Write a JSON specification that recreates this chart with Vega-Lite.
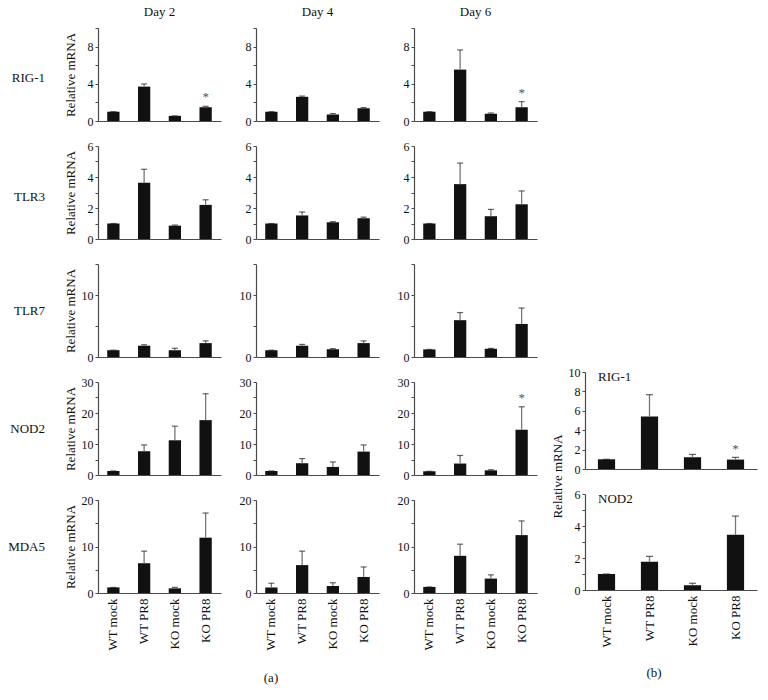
{
"$schema": "https://vega.github.io/schema/vega-lite/v6.json",
"padding": 5,
"background": "white",
"datasets": {"d": [
{"gene":"RIG-1","day":"Day 2","grp":"WT mock","mean":1.0,"upper":1.0,"sig":""},
{"gene":"RIG-1","day":"Day 2","grp":"WT PR8","mean":3.7,"upper":3.98,"sig":""},
{"gene":"RIG-1","day":"Day 2","grp":"KO mock","mean":0.55,"upper":0.55,"sig":""},
{"gene":"RIG-1","day":"Day 2","grp":"KO PR8","mean":1.48,"upper":1.58,"sig":"*"},
{"gene":"RIG-1","day":"Day 4","grp":"WT mock","mean":1.0,"upper":1.0,"sig":""},
{"gene":"RIG-1","day":"Day 4","grp":"WT PR8","mean":2.6,"upper":2.68,"sig":""},
{"gene":"RIG-1","day":"Day 4","grp":"KO mock","mean":0.7,"upper":0.8,"sig":""},
{"gene":"RIG-1","day":"Day 4","grp":"KO PR8","mean":1.37,"upper":1.44,"sig":""},
{"gene":"RIG-1","day":"Day 6","grp":"WT mock","mean":1.0,"upper":1.0,"sig":""},
{"gene":"RIG-1","day":"Day 6","grp":"WT PR8","mean":5.53,"upper":7.64,"sig":""},
{"gene":"RIG-1","day":"Day 6","grp":"KO mock","mean":0.78,"upper":0.86,"sig":""},
{"gene":"RIG-1","day":"Day 6","grp":"KO PR8","mean":1.48,"upper":2.08,"sig":"*"},
{"gene":"TLR3","day":"Day 2","grp":"WT mock","mean":1.0,"upper":1.0,"sig":""},
{"gene":"TLR3","day":"Day 2","grp":"WT PR8","mean":3.63,"upper":4.5,"sig":""},
{"gene":"TLR3","day":"Day 2","grp":"KO mock","mean":0.86,"upper":0.9,"sig":""},
{"gene":"TLR3","day":"Day 2","grp":"KO PR8","mean":2.2,"upper":2.53,"sig":""},
{"gene":"TLR3","day":"Day 4","grp":"WT mock","mean":1.0,"upper":1.0,"sig":""},
{"gene":"TLR3","day":"Day 4","grp":"WT PR8","mean":1.52,"upper":1.74,"sig":""},
{"gene":"TLR3","day":"Day 4","grp":"KO mock","mean":1.08,"upper":1.12,"sig":""},
{"gene":"TLR3","day":"Day 4","grp":"KO PR8","mean":1.34,"upper":1.41,"sig":""},
{"gene":"TLR3","day":"Day 6","grp":"WT mock","mean":1.0,"upper":1.0,"sig":""},
{"gene":"TLR3","day":"Day 6","grp":"WT PR8","mean":3.54,"upper":4.9,"sig":""},
{"gene":"TLR3","day":"Day 6","grp":"KO mock","mean":1.47,"upper":1.91,"sig":""},
{"gene":"TLR3","day":"Day 6","grp":"KO PR8","mean":2.24,"upper":3.1,"sig":""},
{"gene":"TLR7","day":"Day 2","grp":"WT mock","mean":1.1,"upper":1.1,"sig":""},
{"gene":"TLR7","day":"Day 2","grp":"WT PR8","mean":1.82,"upper":1.98,"sig":""},
{"gene":"TLR7","day":"Day 2","grp":"KO mock","mean":1.09,"upper":1.4,"sig":""},
{"gene":"TLR7","day":"Day 2","grp":"KO PR8","mean":2.24,"upper":2.6,"sig":""},
{"gene":"TLR7","day":"Day 4","grp":"WT mock","mean":1.1,"upper":1.1,"sig":""},
{"gene":"TLR7","day":"Day 4","grp":"WT PR8","mean":1.82,"upper":2.03,"sig":""},
{"gene":"TLR7","day":"Day 4","grp":"KO mock","mean":1.25,"upper":1.35,"sig":""},
{"gene":"TLR7","day":"Day 4","grp":"KO PR8","mean":2.24,"upper":2.6,"sig":""},
{"gene":"TLR7","day":"Day 6","grp":"WT mock","mean":1.22,"upper":1.22,"sig":""},
{"gene":"TLR7","day":"Day 6","grp":"WT PR8","mean":5.94,"upper":7.17,"sig":""},
{"gene":"TLR7","day":"Day 6","grp":"KO mock","mean":1.33,"upper":1.39,"sig":""},
{"gene":"TLR7","day":"Day 6","grp":"KO PR8","mean":5.33,"upper":7.9,"sig":""},
{"gene":"NOD2","day":"Day 2","grp":"WT mock","mean":1.3,"upper":1.3,"sig":""},
{"gene":"NOD2","day":"Day 2","grp":"WT PR8","mean":7.66,"upper":9.7,"sig":""},
{"gene":"NOD2","day":"Day 2","grp":"KO mock","mean":11.2,"upper":15.75,"sig":""},
{"gene":"NOD2","day":"Day 2","grp":"KO PR8","mean":17.7,"upper":26.2,"sig":""},
{"gene":"NOD2","day":"Day 4","grp":"WT mock","mean":1.3,"upper":1.3,"sig":""},
{"gene":"NOD2","day":"Day 4","grp":"WT PR8","mean":3.8,"upper":5.3,"sig":""},
{"gene":"NOD2","day":"Day 4","grp":"KO mock","mean":2.6,"upper":4.2,"sig":""},
{"gene":"NOD2","day":"Day 4","grp":"KO PR8","mean":7.55,"upper":9.7,"sig":""},
{"gene":"NOD2","day":"Day 6","grp":"WT mock","mean":1.2,"upper":1.2,"sig":""},
{"gene":"NOD2","day":"Day 6","grp":"WT PR8","mean":3.7,"upper":6.3,"sig":""},
{"gene":"NOD2","day":"Day 6","grp":"KO mock","mean":1.5,"upper":1.7,"sig":""},
{"gene":"NOD2","day":"Day 6","grp":"KO PR8","mean":14.6,"upper":22.0,"sig":"*"},
{"gene":"MDA5","day":"Day 2","grp":"WT mock","mean":1.2,"upper":1.2,"sig":""},
{"gene":"MDA5","day":"Day 2","grp":"WT PR8","mean":6.4,"upper":9.0,"sig":""},
{"gene":"MDA5","day":"Day 2","grp":"KO mock","mean":1.0,"upper":1.2,"sig":""},
{"gene":"MDA5","day":"Day 2","grp":"KO PR8","mean":11.9,"upper":17.2,"sig":""},
{"gene":"MDA5","day":"Day 4","grp":"WT mock","mean":1.2,"upper":2.1,"sig":""},
{"gene":"MDA5","day":"Day 4","grp":"WT PR8","mean":6.0,"upper":9.0,"sig":""},
{"gene":"MDA5","day":"Day 4","grp":"KO mock","mean":1.5,"upper":2.2,"sig":""},
{"gene":"MDA5","day":"Day 4","grp":"KO PR8","mean":3.45,"upper":5.6,"sig":""},
{"gene":"MDA5","day":"Day 6","grp":"WT mock","mean":1.3,"upper":1.3,"sig":""},
{"gene":"MDA5","day":"Day 6","grp":"WT PR8","mean":8.0,"upper":10.5,"sig":""},
{"gene":"MDA5","day":"Day 6","grp":"KO mock","mean":3.1,"upper":3.9,"sig":""},
{"gene":"MDA5","day":"Day 6","grp":"KO PR8","mean":12.45,"upper":15.5,"sig":""},
{"gene":"RIG-1","day":"b","grp":"WT mock","mean":1.0,"upper":1.0,"sig":""},
{"gene":"RIG-1","day":"b","grp":"WT PR8","mean":5.41,"upper":7.66,"sig":""},
{"gene":"RIG-1","day":"b","grp":"KO mock","mean":1.2,"upper":1.5,"sig":""},
{"gene":"RIG-1","day":"b","grp":"KO PR8","mean":0.97,"upper":1.2,"sig":"*"},
{"gene":"NOD2","day":"b","grp":"WT mock","mean":1.0,"upper":1.0,"sig":""},
{"gene":"NOD2","day":"b","grp":"WT PR8","mean":1.77,"upper":2.1,"sig":""},
{"gene":"NOD2","day":"b","grp":"KO mock","mean":0.29,"upper":0.42,"sig":""},
{"gene":"NOD2","day":"b","grp":"KO PR8","mean":3.46,"upper":4.62,"sig":""}
]},
"hconcat": [
{
"concat": [
{"width":58,"height":93,"data":{"values":[{"t":"RIG-1"}]},"mark":{"type":"text","align":"right","dx":11,"dy":3},"encoding":{"text":{"field":"t"}}},
{"width":123,"height":93,"data":{"name":"d"},"transform":[{"filter":"datum.gene=='RIG-1' && datum.day=='Day 2'"}],
 "title":{"text":"Day 2","frame":"group","anchor":"middle","offset":9},
 "encoding":{"x":{"field":"grp","type":"nominal","sort":["WT mock","WT PR8","KO mock","KO PR8"],"axis":{"labels":false,"title":null}},
  "y":{"field":"mean","type":"quantitative","scale":{"domain":[0,10],"nice":false},"axis":{"title":"Relative mRNA","titleX":-21,"values":[0,2,4,6,8,10],"labelExpr":"datum.value % 4 == 0 && datum.value < 10 ? datum.label : ''"}}},
 "layer":[{"mark":"bar"},{"mark":"rule","encoding":{"y2":{"field":"upper"}}},{"mark":{"type":"tick","orient":"horizontal","size":6},"encoding":{"y":{"field":"upper","type":"quantitative"}}},{"mark":{"type":"text","dy":-9,"color":"#555"},"encoding":{"y":{"field":"upper","type":"quantitative"},"text":{"field":"sig"}}}]},
{"width":123,"height":93,"data":{"name":"d"},"transform":[{"filter":"datum.gene=='RIG-1' && datum.day=='Day 4'"}],
 "title":{"text":"Day 4","frame":"group","anchor":"middle","offset":9},
 "encoding":{"x":{"field":"grp","type":"nominal","sort":["WT mock","WT PR8","KO mock","KO PR8"],"axis":{"labels":false,"title":null}},
  "y":{"field":"mean","type":"quantitative","scale":{"domain":[0,10],"nice":false},"axis":{"title":null,"values":[0,2,4,6,8,10],"labelExpr":"datum.value % 4 == 0 && datum.value < 10 ? datum.label : ''"}}},
 "layer":[{"mark":"bar"},{"mark":"rule","encoding":{"y2":{"field":"upper"}}},{"mark":{"type":"tick","orient":"horizontal","size":6},"encoding":{"y":{"field":"upper","type":"quantitative"}}},{"mark":{"type":"text","dy":-9,"color":"#555"},"encoding":{"y":{"field":"upper","type":"quantitative"},"text":{"field":"sig"}}}]},
{"width":123,"height":93,"data":{"name":"d"},"transform":[{"filter":"datum.gene=='RIG-1' && datum.day=='Day 6'"}],
 "title":{"text":"Day 6","frame":"group","anchor":"middle","offset":9},
 "encoding":{"x":{"field":"grp","type":"nominal","sort":["WT mock","WT PR8","KO mock","KO PR8"],"axis":{"labels":false,"title":null}},
  "y":{"field":"mean","type":"quantitative","scale":{"domain":[0,10],"nice":false},"axis":{"title":null,"values":[0,2,4,6,8,10],"labelExpr":"datum.value % 4 == 0 && datum.value < 10 ? datum.label : ''"}}},
 "layer":[{"mark":"bar"},{"mark":"rule","encoding":{"y2":{"field":"upper"}}},{"mark":{"type":"tick","orient":"horizontal","size":6},"encoding":{"y":{"field":"upper","type":"quantitative"}}},{"mark":{"type":"text","dy":-9,"color":"#555"},"encoding":{"y":{"field":"upper","type":"quantitative"},"text":{"field":"sig"}}}]},

{"width":58,"height":93,"data":{"values":[{"t":"TLR3"}]},"mark":{"type":"text","align":"right","dx":11,"dy":4},"encoding":{"text":{"field":"t"}}},
{"width":123,"height":93,"data":{"name":"d"},"transform":[{"filter":"datum.gene=='TLR3' && datum.day=='Day 2'"}],
 "encoding":{"x":{"field":"grp","type":"nominal","sort":["WT mock","WT PR8","KO mock","KO PR8"],"axis":{"labels":false,"title":null}},
  "y":{"field":"mean","type":"quantitative","scale":{"domain":[0,6],"nice":false},"axis":{"title":"Relative mRNA","titleX":-21,"values":[0,1,2,3,4,5,6],"labelExpr":"datum.value % 2 == 0 ? datum.label : ''"}}},
 "layer":[{"mark":"bar"},{"mark":"rule","encoding":{"y2":{"field":"upper"}}},{"mark":{"type":"tick","orient":"horizontal","size":6},"encoding":{"y":{"field":"upper","type":"quantitative"}}},{"mark":{"type":"text","dy":-9,"color":"#555"},"encoding":{"y":{"field":"upper","type":"quantitative"},"text":{"field":"sig"}}}]},
{"width":123,"height":93,"data":{"name":"d"},"transform":[{"filter":"datum.gene=='TLR3' && datum.day=='Day 4'"}],
 "encoding":{"x":{"field":"grp","type":"nominal","sort":["WT mock","WT PR8","KO mock","KO PR8"],"axis":{"labels":false,"title":null}},
  "y":{"field":"mean","type":"quantitative","scale":{"domain":[0,6],"nice":false},"axis":{"title":null,"values":[0,1,2,3,4,5,6],"labelExpr":"datum.value % 2 == 0 ? datum.label : ''"}}},
 "layer":[{"mark":"bar"},{"mark":"rule","encoding":{"y2":{"field":"upper"}}},{"mark":{"type":"tick","orient":"horizontal","size":6},"encoding":{"y":{"field":"upper","type":"quantitative"}}},{"mark":{"type":"text","dy":-9,"color":"#555"},"encoding":{"y":{"field":"upper","type":"quantitative"},"text":{"field":"sig"}}}]},
{"width":123,"height":93,"data":{"name":"d"},"transform":[{"filter":"datum.gene=='TLR3' && datum.day=='Day 6'"}],
 "encoding":{"x":{"field":"grp","type":"nominal","sort":["WT mock","WT PR8","KO mock","KO PR8"],"axis":{"labels":false,"title":null}},
  "y":{"field":"mean","type":"quantitative","scale":{"domain":[0,6],"nice":false},"axis":{"title":null,"values":[0,1,2,3,4,5,6],"labelExpr":"datum.value % 2 == 0 ? datum.label : ''"}}},
 "layer":[{"mark":"bar"},{"mark":"rule","encoding":{"y2":{"field":"upper"}}},{"mark":{"type":"tick","orient":"horizontal","size":6},"encoding":{"y":{"field":"upper","type":"quantitative"}}},{"mark":{"type":"text","dy":-9,"color":"#555"},"encoding":{"y":{"field":"upper","type":"quantitative"},"text":{"field":"sig"}}}]},

{"width":58,"height":93,"data":{"values":[{"t":"TLR7"}]},"mark":{"type":"text","align":"right","dx":11},"encoding":{"text":{"field":"t"}}},
{"width":123,"height":93,"data":{"name":"d"},"transform":[{"filter":"datum.gene=='TLR7' && datum.day=='Day 2'"}],
 "encoding":{"x":{"field":"grp","type":"nominal","sort":["WT mock","WT PR8","KO mock","KO PR8"],"axis":{"labels":false,"title":null}},
  "y":{"field":"mean","type":"quantitative","scale":{"domain":[0,15],"nice":false},"axis":{"title":"Relative mRNA","titleX":-21,"values":[0,5,10,15],"labelExpr":"datum.value % 10 == 0 ? datum.label : ''"}}},
 "layer":[{"mark":"bar"},{"mark":"rule","encoding":{"y2":{"field":"upper"}}},{"mark":{"type":"tick","orient":"horizontal","size":6},"encoding":{"y":{"field":"upper","type":"quantitative"}}},{"mark":{"type":"text","dy":-9,"color":"#555"},"encoding":{"y":{"field":"upper","type":"quantitative"},"text":{"field":"sig"}}}]},
{"width":123,"height":93,"data":{"name":"d"},"transform":[{"filter":"datum.gene=='TLR7' && datum.day=='Day 4'"}],
 "encoding":{"x":{"field":"grp","type":"nominal","sort":["WT mock","WT PR8","KO mock","KO PR8"],"axis":{"labels":false,"title":null}},
  "y":{"field":"mean","type":"quantitative","scale":{"domain":[0,15],"nice":false},"axis":{"title":null,"values":[0,5,10,15],"labelExpr":"datum.value % 10 == 0 ? datum.label : ''"}}},
 "layer":[{"mark":"bar"},{"mark":"rule","encoding":{"y2":{"field":"upper"}}},{"mark":{"type":"tick","orient":"horizontal","size":6},"encoding":{"y":{"field":"upper","type":"quantitative"}}},{"mark":{"type":"text","dy":-9,"color":"#555"},"encoding":{"y":{"field":"upper","type":"quantitative"},"text":{"field":"sig"}}}]},
{"width":123,"height":93,"data":{"name":"d"},"transform":[{"filter":"datum.gene=='TLR7' && datum.day=='Day 6'"}],
 "encoding":{"x":{"field":"grp","type":"nominal","sort":["WT mock","WT PR8","KO mock","KO PR8"],"axis":{"labels":false,"title":null}},
  "y":{"field":"mean","type":"quantitative","scale":{"domain":[0,15],"nice":false},"axis":{"title":null,"values":[0,5,10,15],"labelExpr":"datum.value % 10 == 0 ? datum.label : ''"}}},
 "layer":[{"mark":"bar"},{"mark":"rule","encoding":{"y2":{"field":"upper"}}},{"mark":{"type":"tick","orient":"horizontal","size":6},"encoding":{"y":{"field":"upper","type":"quantitative"}}},{"mark":{"type":"text","dy":-9,"color":"#555"},"encoding":{"y":{"field":"upper","type":"quantitative"},"text":{"field":"sig"}}}]},

{"width":58,"height":93,"data":{"values":[{"t":"NOD2"}]},"mark":{"type":"text","align":"right","dx":11},"encoding":{"text":{"field":"t"}}},
{"width":123,"height":93,"data":{"name":"d"},"transform":[{"filter":"datum.gene=='NOD2' && datum.day=='Day 2'"}],
 "encoding":{"x":{"field":"grp","type":"nominal","sort":["WT mock","WT PR8","KO mock","KO PR8"],"axis":{"labels":false,"title":null}},
  "y":{"field":"mean","type":"quantitative","scale":{"domain":[0,30],"nice":false},"axis":{"title":"Relative mRNA","titleX":-21,"values":[0,5,10,15,20,25,30],"labelExpr":"datum.value % 10 == 0 ? datum.label : ''"}}},
 "layer":[{"mark":"bar"},{"mark":"rule","encoding":{"y2":{"field":"upper"}}},{"mark":{"type":"tick","orient":"horizontal","size":6},"encoding":{"y":{"field":"upper","type":"quantitative"}}},{"mark":{"type":"text","dy":-9,"color":"#555"},"encoding":{"y":{"field":"upper","type":"quantitative"},"text":{"field":"sig"}}}]},
{"width":123,"height":93,"data":{"name":"d"},"transform":[{"filter":"datum.gene=='NOD2' && datum.day=='Day 4'"}],
 "encoding":{"x":{"field":"grp","type":"nominal","sort":["WT mock","WT PR8","KO mock","KO PR8"],"axis":{"labels":false,"title":null}},
  "y":{"field":"mean","type":"quantitative","scale":{"domain":[0,30],"nice":false},"axis":{"title":null,"values":[0,5,10,15,20,25,30],"labelExpr":"datum.value % 10 == 0 ? datum.label : ''"}}},
 "layer":[{"mark":"bar"},{"mark":"rule","encoding":{"y2":{"field":"upper"}}},{"mark":{"type":"tick","orient":"horizontal","size":6},"encoding":{"y":{"field":"upper","type":"quantitative"}}},{"mark":{"type":"text","dy":-9,"color":"#555"},"encoding":{"y":{"field":"upper","type":"quantitative"},"text":{"field":"sig"}}}]},
{"width":123,"height":93,"data":{"name":"d"},"transform":[{"filter":"datum.gene=='NOD2' && datum.day=='Day 6'"}],
 "encoding":{"x":{"field":"grp","type":"nominal","sort":["WT mock","WT PR8","KO mock","KO PR8"],"axis":{"labels":false,"title":null}},
  "y":{"field":"mean","type":"quantitative","scale":{"domain":[0,30],"nice":false},"axis":{"title":null,"values":[0,5,10,15,20,25,30],"labelExpr":"datum.value % 10 == 0 ? datum.label : ''"}}},
 "layer":[{"mark":"bar"},{"mark":"rule","encoding":{"y2":{"field":"upper"}}},{"mark":{"type":"tick","orient":"horizontal","size":6},"encoding":{"y":{"field":"upper","type":"quantitative"}}},{"mark":{"type":"text","dy":-9,"color":"#555"},"encoding":{"y":{"field":"upper","type":"quantitative"},"text":{"field":"sig"}}}]},

{"width":58,"height":93,"data":{"values":[{"t":"MDA5"}]},"mark":{"type":"text","align":"right","dx":11},"encoding":{"text":{"field":"t"}}},
{"width":123,"height":93,"data":{"name":"d"},"transform":[{"filter":"datum.gene=='MDA5' && datum.day=='Day 2'"}],
 "encoding":{"x":{"field":"grp","type":"nominal","sort":["WT mock","WT PR8","KO mock","KO PR8"],"axis":{"title":null}},
  "y":{"field":"mean","type":"quantitative","scale":{"domain":[0,20],"nice":false},"axis":{"title":"Relative mRNA","titleX":-21,"values":[0,5,10,15,20],"labelExpr":"datum.value % 10 == 0 ? datum.label : ''"}}},
 "layer":[{"mark":"bar"},{"mark":"rule","encoding":{"y2":{"field":"upper"}}},{"mark":{"type":"tick","orient":"horizontal","size":6},"encoding":{"y":{"field":"upper","type":"quantitative"}}},{"mark":{"type":"text","dy":-9,"color":"#555"},"encoding":{"y":{"field":"upper","type":"quantitative"},"text":{"field":"sig"}}}]},
{"width":123,"height":93,"data":{"name":"d"},"transform":[{"filter":"datum.gene=='MDA5' && datum.day=='Day 4'"}],
 "encoding":{"x":{"field":"grp","type":"nominal","sort":["WT mock","WT PR8","KO mock","KO PR8"],"axis":{"title":null}},
  "y":{"field":"mean","type":"quantitative","scale":{"domain":[0,20],"nice":false},"axis":{"title":null,"values":[0,5,10,15,20],"labelExpr":"datum.value % 10 == 0 ? datum.label : ''"}}},
 "layer":[{"mark":"bar"},{"mark":"rule","encoding":{"y2":{"field":"upper"}}},{"mark":{"type":"tick","orient":"horizontal","size":6},"encoding":{"y":{"field":"upper","type":"quantitative"}}},{"mark":{"type":"text","dy":-9,"color":"#555"},"encoding":{"y":{"field":"upper","type":"quantitative"},"text":{"field":"sig"}}}]},
{"width":123,"height":93,"data":{"name":"d"},"transform":[{"filter":"datum.gene=='MDA5' && datum.day=='Day 6'"}],
 "encoding":{"x":{"field":"grp","type":"nominal","sort":["WT mock","WT PR8","KO mock","KO PR8"],"axis":{"title":null}},
  "y":{"field":"mean","type":"quantitative","scale":{"domain":[0,20],"nice":false},"axis":{"title":null,"values":[0,5,10,15,20],"labelExpr":"datum.value % 10 == 0 ? datum.label : ''"}}},
 "layer":[{"mark":"bar"},{"mark":"rule","encoding":{"y2":{"field":"upper"}}},{"mark":{"type":"tick","orient":"horizontal","size":6},"encoding":{"y":{"field":"upper","type":"quantitative"}}},{"mark":{"type":"text","dy":-9,"color":"#555"},"encoding":{"y":{"field":"upper","type":"quantitative"},"text":{"field":"sig"}}}]}
],
"columns": 4,
"align": "each",
"bounds": "flush",
"spacing": {"row": 25, "column": 35},
"title": {"text": "(a)", "orient": "bottom", "anchor": "middle", "offset": 22}
},
{
"vconcat": [
{"width":172,"height":319,"data":{"values":[{}]},"mark":"text","encoding":{}},
{"width":172,"height":97,"data":{"name":"d"},"transform":[{"filter":"datum.gene=='RIG-1' && datum.day=='b'"}],
 "title":{"text":"RIG-1","frame":"group","anchor":"start","offset":-18,"dx":13},
 "encoding":{"x":{"field":"grp","type":"nominal","sort":["WT mock","WT PR8","KO mock","KO PR8"],"axis":{"labels":false,"title":null}},
  "y":{"field":"mean","type":"quantitative","scale":{"domain":[0,10],"nice":false},"axis":{"title":"Relative mRNA","titleY":104,"titlePadding":4,"values":[0,2,4,6,8,10]}}},
 "layer":[{"mark":"bar"},{"mark":"rule","encoding":{"y2":{"field":"upper"}}},{"mark":{"type":"tick","orient":"horizontal","size":7},"encoding":{"y":{"field":"upper","type":"quantitative"}}},{"mark":{"type":"text","dy":-8,"color":"#555"},"encoding":{"y":{"field":"upper","type":"quantitative"},"text":{"field":"sig"}}}]},
{"width":172,"height":96,"data":{"name":"d"},"transform":[{"filter":"datum.gene=='NOD2' && datum.day=='b'"}],
 "title":{"text":"NOD2","frame":"group","anchor":"start","offset":-18,"dx":13},
 "encoding":{"x":{"field":"grp","type":"nominal","sort":["WT mock","WT PR8","KO mock","KO PR8"],"axis":{"title":null}},
  "y":{"field":"mean","type":"quantitative","scale":{"domain":[0,6],"nice":false},"axis":{"title":null,"values":[0,1,2,3,4,5,6],"labelExpr":"datum.value % 2 == 0 ? datum.label : ''"}}},
 "layer":[{"mark":"bar"},{"mark":"rule","encoding":{"y2":{"field":"upper"}}},{"mark":{"type":"tick","orient":"horizontal","size":7},"encoding":{"y":{"field":"upper","type":"quantitative"}}},{"mark":{"type":"text","dy":-8,"color":"#555"},"encoding":{"y":{"field":"upper","type":"quantitative"},"text":{"field":"sig"}}}]}
],
"spacing": 25,
"bounds": "flush",
"title": {"text": "(b)", "orient": "bottom", "anchor": "middle", "offset": 20}
}
],
"spacing": 14,
"config": {
 "view": {"stroke": null},
 "font": "Liberation Serif",
 "bar": {"color": "#111"},
 "rule": {"color": "#777", "strokeWidth": 1.3},
 "tick": {"color": "#222", "thickness": 1.2},
 "text": {"font": "Liberation Serif", "fontSize": 13, "color": "#111"},
 "scale": {"bandPaddingInner": 0.6, "bandPaddingOuter": 0.3},
 "axis": {"grid": false, "domainColor": "#4a4a4a", "tickColor": "#4a4a4a", "domainWidth": 1.2, "labelFont": "Liberation Serif", "labelFontSize": 12, "labelColor": "#111", "titleFont": "Liberation Serif", "titleFontSize": 13, "titleFontWeight": "normal", "titleColor": "#111", "tickSize": 3, "labelPadding": 2},
 "axisX": {"ticks": false, "labelAngle": -90, "labelFontSize": 13, "labelPadding": 5},
 "title": {"font": "Liberation Serif", "fontSize": 13, "fontWeight": "normal", "color": "#111"}
}
}
